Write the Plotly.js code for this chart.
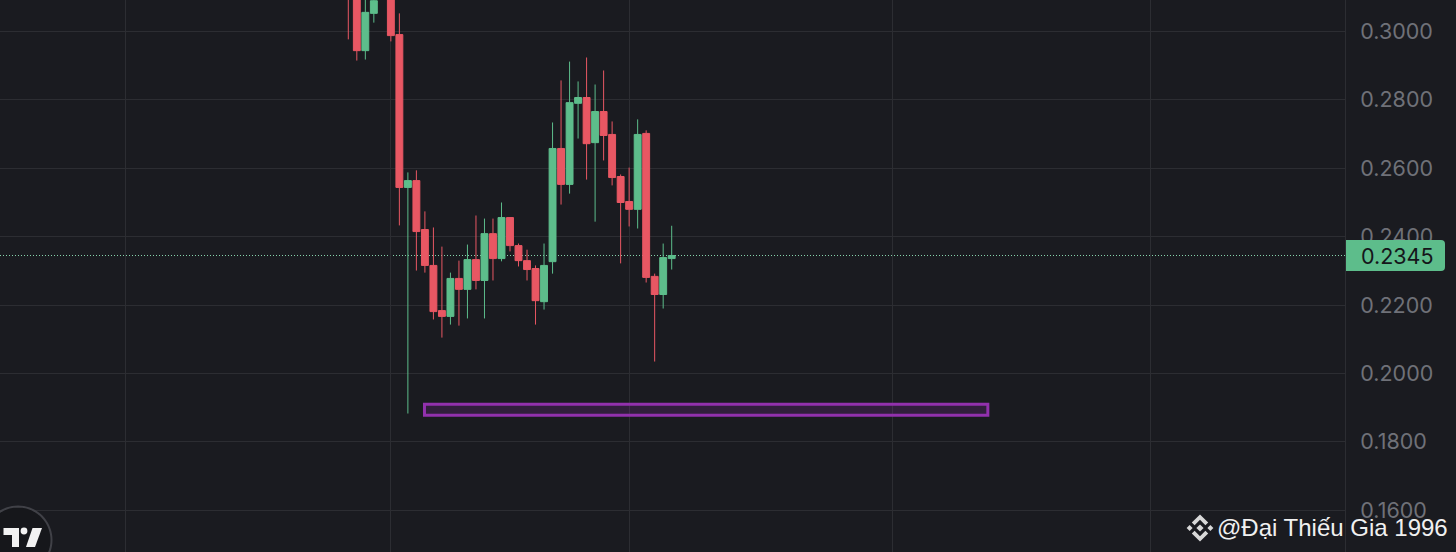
<!DOCTYPE html>
<html><head><meta charset="utf-8">
<script src="https://cdn.plot.ly/plotly-3.0.1.min.js"></script>
<style>html,body{margin:0;padding:0;background:#1a1b20;overflow:hidden}#c{width:1456px;height:552px}</style>
</head><body><div id="c"></div>
<script>
var bars  = [0,1,2,3,4,5,6,7,8,9,10,11,12,13,14,15,16,17,18,19,20,21,22,23,24,25,26,27,28,29,30,31,32,33,34,35,36,37,38];
var opens = [.3160,.3130,.2944,.3053,.3180,.3160,.2991,.2544,.2564,.2421,.2316,.2184,.2167,.2278,.2246,.2333,.2272,.2409,.2336,.2456,.2374,.2330,.2307,.2210,.2327,.2658,.2553,.2790,.2807,.2675,.2766,.2699,.2576,.2503,.2480,.2702,.2284,.2231,.2336];
var highs = [.3200,.3160,.3120,.3150,.3250,.3200,.3053,.2588,.2594,.2474,.2427,.2371,.2295,.2330,.2377,.2462,.2453,.2453,.2500,.2456,.2380,.2362,.2316,.2380,.2734,.2857,.2912,.2854,.2924,.2845,.2886,.2737,.2582,.2602,.2743,.2711,.2292,.2380,.2432];
var lows  = [.2977,.2915,.2918,.3026,.3115,.2971,.2433,.1883,.2301,.2295,.2158,.2105,.2143,.2140,.2161,.2246,.2161,.2272,.2328,.2357,.2313,.2272,.2143,.2187,.2292,.2494,.2526,.2687,.2567,.2444,.2623,.2550,.2322,.2430,.2424,.2266,.2035,.2190,.2304];
var closes= [.3120,.2944,.3056,.3090,.3220,.2988,.2544,.2564,.2415,.2316,.2181,.2167,.2278,.2246,.2333,.2272,.2409,.2336,.2456,.2374,.2330,.2304,.2213,.2316,.2658,.2553,.2792,.2807,.2672,.2766,.2696,.2573,.2500,.2480,.2699,.2281,.2231,.2339,.2345];
var priceTicks = [0.16,0.18,0.20,0.22,0.24,0.26,0.28,0.30];
var timeGrid = [-26.2,5,33,64,94.3];
var lastPrice = 0.2345;
var zoneBars = [8.95,75.15];
var zonePrices = [0.18777,0.19099];
var priceLabel = "0.2345";
var watermark = "@Đại Thiếu Gia 1996";

var W=1345,H=552;
function X(p){return p/W;} function Y(p){return 1-p/H;}
function poly(pts){return 'M'+pts.map(function(q){return X(q[0])+','+Y(q[1]);}).join(' L')+' Z';}
function rel(cx,cy,pts){return poly(pts.map(function(q){return [cx+q[0],cy+q[1]];}));}
function paperShape(path,fill){return {type:'path',xref:'paper',yref:'paper',path:path,fillcolor:fill,line:{width:0},layer:'above'};}
var g='#d8d8d8', cx=1200, cy=528;
var bn=[
 rel(cx,cy,[[0,-3.6],[3.6,0],[0,3.6],[-3.6,0]]),
 rel(cx,cy,[[-13.4,0],[-10.4,-3],[-7.4,0],[-10.4,3]]),
 rel(cx,cy,[[13.4,0],[10.4,-3],[7.4,0],[10.4,3]]),
 rel(cx,cy,[[0,-13.6],[8.2,-5.4],[5.4,-2.8],[0,-8.2],[-5.4,-2.8],[-8.2,-5.4]]),
 rel(cx,cy,[[0,13.6],[8.2,5.4],[5.4,2.8],[0,8.2],[-5.4,2.8],[-8.2,5.4]])
].map(function(p){return paperShape(p,g);});
var circle=[];
for(var a=0;a<=72;a++){var t=a/72*2*Math.PI;circle.push([18+33.5*Math.cos(t),540+33.5*Math.sin(t)]);}
var tv=[
 {type:'path',xref:'paper',yref:'paper',path:poly(circle),fillcolor:'#16171b',line:{color:'#404147',width:2},layer:'above'},
 paperShape(poly([[3.5,528],[19,528],[19,547],[12,547],[12,535],[3.5,535]]),'#f2f2f2'),
 {type:'circle',xref:'paper',yref:'paper',x0:X(20.6),x1:X(27.4),y0:Y(534.4),y1:Y(527.6),fillcolor:'#f2f2f2',line:{width:0},layer:'above'},
 paperShape(poly([[32.5,528],[42,528],[35,547],[26,547]]),'#f2f2f2')
];
var shapes=[
 {type:'line',xref:'paper',yref:'y',x0:0,x1:1,y0:lastPrice,y1:lastPrice,line:{color:'#86d3ab',width:1,dash:'1px,2px'},layer:'below'},
 {type:'rect',xref:'x',yref:'y',x0:zoneBars[0],x1:zoneBars[1],y0:zonePrices[0],y1:zonePrices[1],line:{color:'#9231ad',width:3},fillcolor:'rgba(146,49,173,0.2)',layer:'above'},
 paperShape('M'+X(1346)+','+Y(240)+' L'+X(1441)+','+Y(240)+' Q'+X(1445)+','+Y(240)+' '+X(1445)+','+Y(244)+' L'+X(1445)+','+Y(267)+' Q'+X(1445)+','+Y(271)+' '+X(1441)+','+Y(271)+' L'+X(1346)+','+Y(271)+' Z','#5dbd8b')
].concat(tv).concat(bn);

var trace={type:'candlestick',x:bars,open:opens,high:highs,low:lows,close:closes,hoverinfo:'skip',
 increasing:{line:{color:'#5dbd8b',width:1},fillcolor:'#5dbd8b'},
 decreasing:{line:{color:'#e85763',width:1},fillcolor:'#e85763'},whiskerwidth:0,showlegend:false};

var layout={width:1456,height:552,margin:{l:0,r:111,t:0,b:0,pad:0},paper_bgcolor:'#1a1b20',plot_bgcolor:'#1a1b20',showlegend:false,boxmode:'overlay',boxgap:0.19,boxgroupgap:0,
 xaxis:{type:'linear',range:[-40.93,117.12],tickmode:'array',tickvals:timeGrid,showticklabels:false,ticks:'',showgrid:true,gridcolor:'#2c2d32',gridwidth:1,zeroline:false,showline:false,rangeslider:{visible:false},fixedrange:true},
 yaxis:{side:'right',range:[0.14781,0.30921],tickmode:'array',tickvals:priceTicks,tickformat:'.4f',showgrid:true,gridcolor:'#2c2d32',gridwidth:1,zeroline:false,showline:true,linecolor:'#2c2d32',linewidth:1,ticks:'outside',ticklen:10,tickcolor:'rgba(0,0,0,0)',tickfont:{family:'Inter, sans-serif',size:21.5,color:'#6f7178'},fixedrange:true},
 shapes:shapes,
 annotations:[
  {xref:'paper',yref:'paper',x:X(1436),y:Y(255.5),xanchor:'right',yanchor:'middle',showarrow:false,text:priceLabel,font:{family:'Inter, sans-serif',size:21.5,color:'#15161a'}},
  {xref:'paper',yref:'paper',x:X(1449.5),y:Y(527.5),xanchor:'right',yanchor:'middle',showarrow:false,text:watermark,font:{family:'Liberation Sans, sans-serif',size:24,color:'#f0f0f0'}}
 ]};
Plotly.newPlot('c',[trace],layout,{displayModeBar:false,staticPlot:true});
</script></body></html>
